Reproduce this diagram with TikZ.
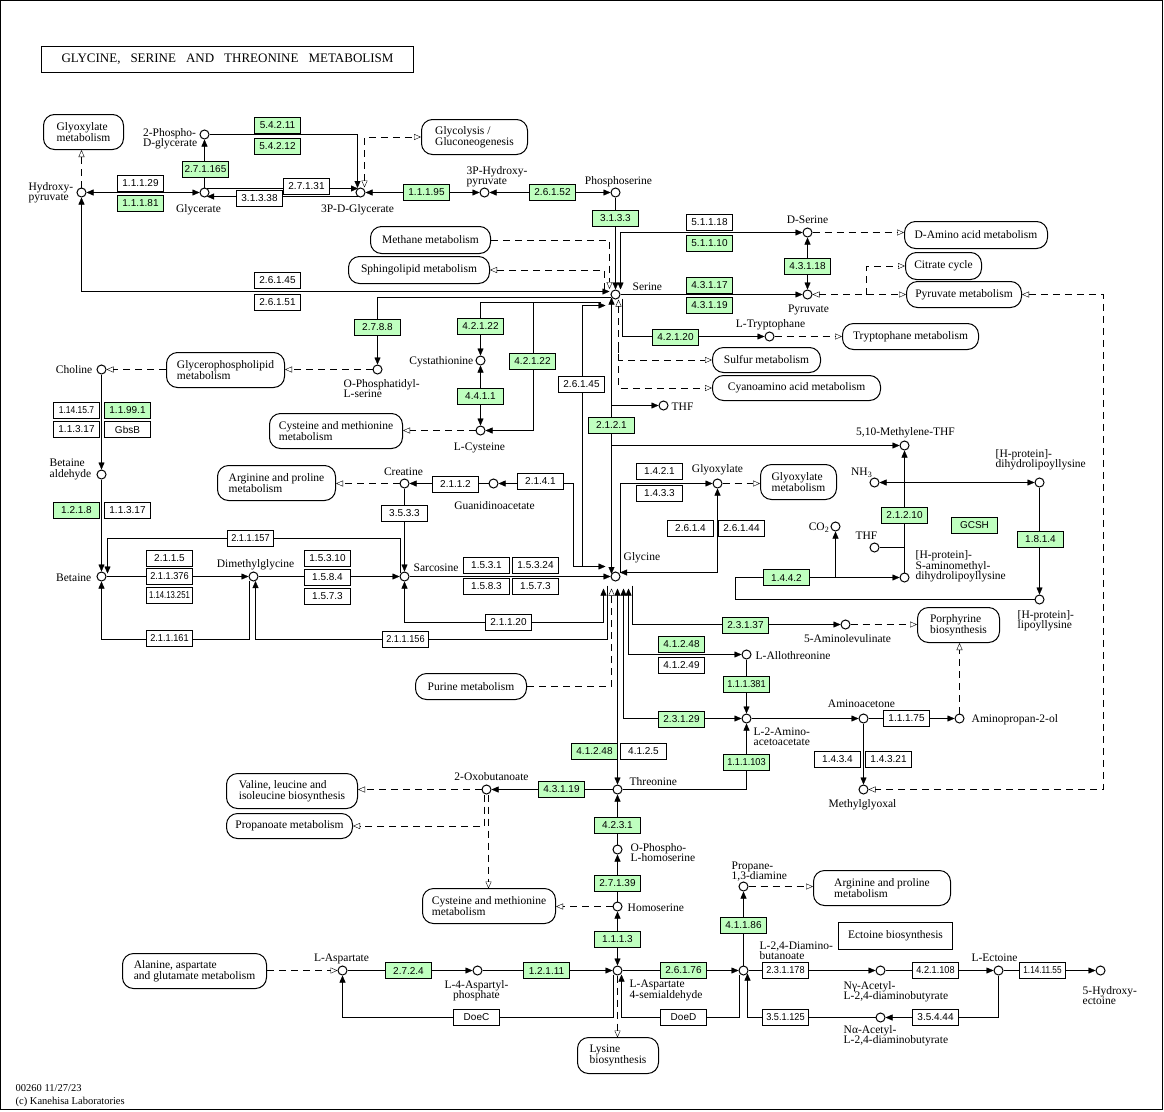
\documentclass[tikz,border=0pt]{standalone}
\usepackage{fontspec}
\setmainfont{Liberation Serif}
\newfontfamily\ecfam{Liberation Sans}
\usetikzlibrary{arrows.meta,backgrounds}
\definecolor{ecgreen}{HTML}{BFFFBF}
\newcommand{\labf}{\fontsize{11.5}{10.5}\selectfont}
\newcommand{\ecf}{\ecfam\fontsize{10}{10}\selectfont}
\newcommand{\sqz}[2]{\scalebox{#1}[1]{#2}}
\tikzset{
 >={Triangle[length=7pt,width=6pt]},
 oT/.tip={Triangle[open,length=7pt,width=6pt]},
 cpd/.style={circle,draw,fill=white,line width=1pt,inner sep=0pt,minimum size=9pt},
 ecg/.style={draw,fill=ecgreen,line width=0.9pt,minimum width=46pt,minimum height=16pt,inner sep=0pt,font=\ecf},
 ecw/.style={ecg,fill=white},
 mapb/.style={draw,fill=white,line width=1pt,rounded corners=11pt,align=left,inner sep=0pt,font=\labf},
 lab/.style={inner sep=0pt,align=left,font=\labf},
 dsh/.style={dash pattern=on 7pt off 5pt},
 rc/.style={sharp corners},
}
\begin{document}
\begin{tikzpicture}[x=1pt,y=-1pt]
\useasboundingbox (0,0) rectangle (1164,1111);
\draw[line width=1pt] (0.5,0.5) rectangle (1162.5,1109.5);
\begin{scope}[shift={(0.5,0.5)}]
\node[draw,line width=1pt,minimum width=372pt,minimum height=26pt,inner sep=0pt,font=\fontsize{13}{13}\selectfont] (title) at (227,59) {GLYCINE,\hspace{10pt}SERINE\hspace{10pt}AND\hspace{10pt}THREONINE\hspace{10pt}METABOLISM};
\node[lab,anchor=west,font=\fontsize{10.5}{10}\selectfont] (foot1) at (15,1088) {00260 11/27/23};
\node[lab,anchor=west,font=\fontsize{10.5}{10}\selectfont] (foot2) at (15,1101) {(c) Kanehisa Laboratories};

% ---------- compounds
\node[cpd] (hpyr) at (81,192) {};
\node[cpd] (pgly2) at (204,134) {};
\node[cpd] (glyc) at (204,192) {};
\node[cpd] (pgly3) at (360,192) {};
\node[cpd] (phpyr) at (484,192) {};
\node[cpd] (pser) at (615,192) {};
\node[cpd] (ser) at (615,294) {};
\node[cpd] (dser) at (807,232) {};
\node[cpd] (pyr) at (807,294) {};
\node[cpd] (trp) at (769,336) {};
\node[cpd] (thf1) at (663,405) {};
\node[cpd] (mthf) at (904,445) {};
\node[cpd] (nh3) at (874,482) {};
\node[cpd] (hdl) at (1039,482) {};
\node[cpd] (co2) at (835,526) {};
\node[cpd] (thf2) at (874,547) {};
\node[cpd] (ham) at (904,577) {};
\node[cpd] (hlip) at (1039,599) {};
\node[cpd] (glx) at (717,483) {};
\node[cpd] (gly) at (615,576) {};
\node[cpd] (sar) at (404,576) {};
\node[cpd] (dmg) at (253,576) {};
\node[cpd] (bet) at (101,576) {};
\node[cpd] (betald) at (101,474) {};
\node[cpd] (cho) at (101,369) {};
\node[cpd] (pser2) at (377,369) {};
\node[cpd] (cysta) at (480,360) {};
\node[cpd] (cys) at (480,430) {};
\node[cpd] (crea) at (404,483) {};
\node[cpd] (gaa) at (493,483) {};
\node[cpd] (ala) at (845,624) {};
\node[cpd] (athr) at (746,654) {};
\node[cpd] (aka) at (746,718) {};
\node[cpd] (aac) at (863,718) {};
\node[cpd] (apol) at (959,718) {};
\node[cpd] (mgo) at (863,789) {};
\node[cpd] (thr) at (617,789) {};
\node[cpd] (oxb) at (486,789) {};
\node[cpd] (phser) at (617,849) {};
\node[cpd] (hser) at (617,906) {};
\node[cpd] (asa) at (617,970) {};
\node[cpd] (asp4p) at (477,970) {};
\node[cpd] (asp) at (342,970) {};
\node[cpd] (dab) at (743,970) {};
\node[cpd] (pda) at (743,886) {};
\node[cpd] (nga) at (880,970) {};
\node[cpd] (ect) at (998,970) {};
\node[cpd] (hect) at (1100,970) {};
\node[cpd] (naa) at (880,1017) {};

% ---------- compound labels
\node[lab,anchor=east] (l1) at (73,192) {Hydroxy-\\pyruvate};
\node[lab,anchor=east] (l2) at (197,138) {2-Phospho-\\D-glycerate};
\node[lab] (l3) at (198,209) {Glycerate};
\node[lab] (l4) at (357,209) {3P-D-Glycerate};
\node[lab,anchor=west] (l5) at (466,176) {3P-Hydroxy-\\pyruvate};
\node[lab] (l6) at (618,181) {Phosphoserine};
\node[lab,anchor=west] (l7) at (632,286) {Serine};
\node[lab] (l8) at (807,219) {D-Serine};
\node[lab] (l9) at (808,309) {Pyruvate};
\node[lab] (l10) at (770,324) {L-Tryptophane};
\node[lab,anchor=west] (l11) at (671,406) {THF};
\node[lab] (l12) at (905,432) {5,10-Methylene-THF};
\node[lab,anchor=east] (l13) at (872,472) {NH\textsubscript{3}};
\node[lab,anchor=west] (l14) at (995,459) {[H-protein]-\\dihydrolipoyllysine};
\node[lab,anchor=east] (l15) at (829,527) {CO\textsubscript{2}};
\node[lab] (l16) at (866,535) {THF};
\node[lab,anchor=west] (l17) at (915,566) {[H-protein]-\\S-aminomethyl-\\dihydrolipoyllysine};
\node[lab,anchor=west] (l18) at (1017,620) {[H-protein]-\\lipoyllysine};
\node[lab] (l19) at (717,469) {Glyoxylate};
\node[lab,anchor=west] (l20) at (623,557) {Glycine};
\node[lab,anchor=west] (l21) at (413,567) {Sarcosine};
\node[lab] (l22) at (255,564) {Dimethylglycine};
\node[lab,anchor=east] (l23) at (91,577) {Betaine};
\node[lab,anchor=west] (l24) at (49,469) {Betaine\\aldehyde};
\node[lab,anchor=east] (l25) at (92,369) {Choline};
\node[lab,anchor=west] (l26) at (343,388) {O-Phosphatidyl-\\L-serine};
\node[lab,anchor=east] (l27) at (473,361) {Cystathionine};
\node[lab] (l28) at (479,447) {L-Cysteine};
\node[lab] (l29) at (403,471) {Creatine};
\node[lab] (l30) at (494,505) {Guanidinoacetate};
\node[lab] (l31) at (847,638) {5-Aminolevulinate};
\node[lab,anchor=west] (l32) at (755,655) {L-Allothreonine};
\node[lab,anchor=west] (l33) at (753,736) {L-2-Amino-\\acetoacetate};
\node[lab] (l34) at (861,703) {Aminoacetone};
\node[lab,anchor=west] (l35) at (971,719) {Aminopropan-2-ol};
\node[lab] (l36) at (862,804) {Methylglyoxal};
\node[lab,anchor=west] (l37) at (629,781) {Threonine};
\node[lab] (l38) at (491,776) {2-Oxobutanoate};
\node[lab,anchor=west] (l39) at (630,852) {O-Phospho-\\L-homoserine};
\node[lab,anchor=west] (l40) at (627,907) {Homoserine};
\node[lab,anchor=west] (l41) at (629,990) {L-Aspartate\\4-semialdehyde};
\node[lab,align=center] (l42) at (476,990) {L-4-Aspartyl-\\phosphate};
\node[lab] (l43) at (341,958) {L-Aspartate};
\node[lab,anchor=west] (l44) at (759,950) {L-2,4-Diamino-\\butanoate};
\node[lab,anchor=west] (l45) at (731,871) {Propane-\\1,3-diamine};
\node[lab,anchor=west] (l46) at (843,991) {Nγ-Acetyl-\\L-2,4-diaminobutyrate};
\node[lab] (l47) at (994,957) {L-Ectoine};
\node[lab,anchor=west] (l48) at (1082,995) {5-Hydroxy-\\ectoine};
\node[lab,anchor=west] (l49) at (843,1035) {Nα-Acetyl-\\L-2,4-diaminobutyrate};

% ---------- map boxes
\node[mapb,minimum width=80pt,minimum height=35pt] (m_glx1) at (83,131.5) {Glyoxylate\\metabolism};
\node[mapb,minimum width=106pt,minimum height=35pt] (m_glyco) at (474,136.5) {Glycolysis /\\Gluconeogenesis};
\node[mapb,minimum width=120pt,minimum height=27pt] (m_meth) at (430,239.5) {Methane metabolism};
\node[mapb,minimum width=141pt,minimum height=27pt] (m_sph) at (418.5,269.5) {Sphingolipid metabolism};
\node[mapb,minimum width=143pt,minimum height=27pt] (m_dam) at (975.5,234.5) {D-Amino acid metabolism};
\node[mapb,minimum width=76pt,minimum height=27pt] (m_cit) at (943,265.5) {Citrate cycle};
\node[mapb,minimum width=115pt,minimum height=26pt] (m_pyrm) at (963.5,294) {Pyruvate metabolism};
\node[mapb,minimum width=136pt,minimum height=26pt] (m_trpm) at (910,336) {Tryptophane metabolism};
\node[mapb,minimum width=108pt,minimum height=25pt] (m_sulf) at (766,359.5) {Sulfur metabolism};
\node[mapb,minimum width=168pt,minimum height=25pt] (m_cyano) at (796,387.5) {Cyanoamino acid metabolism};
\node[mapb,minimum width=118pt,minimum height=35pt] (m_gpl) at (225,369.5) {Glycerophospholipid\\metabolism};
\node[mapb,minimum width=133pt,minimum height=35pt] (m_cys1) at (335.5,430.5) {Cysteine and methionine\\metabolism};
\node[mapb,minimum width=118pt,minimum height=35pt] (m_arg1) at (276,482.5) {Arginine and proline\\metabolism};
\node[mapb,minimum width=76pt,minimum height=35pt] (m_glx2) at (798,481.5) {Glyoxylate\\metabolism};
\node[mapb,minimum width=82pt,minimum height=35pt] (m_por) at (958,624.5) {Porphyrine\\biosynthesis};
\node[mapb,minimum width=111pt,minimum height=26pt] (m_pur) at (470.5,686) {Purine metabolism};
\node[mapb,minimum width=131pt,minimum height=35pt] (m_val) at (291.5,790.5) {Valine, leucine and\\isoleucine biosynthesis};
\node[mapb,minimum width=126pt,minimum height=25pt] (m_prop) at (289,825.5) {Propanoate metabolism};
\node[mapb,minimum width=133pt,minimum height=35pt] (m_cys2) at (488.5,905.5) {Cysteine and methionine\\metabolism};
\node[mapb,minimum width=137pt,minimum height=35pt] (m_arg2) at (881.5,887.5) {Arginine and proline\\metabolism};
\node[mapb,rounded corners=0pt,minimum width=114pt,minimum height=27pt] (m_ect) at (895,935.5) {Ectoine biosynthesis};
\node[mapb,minimum width=144pt,minimum height=35pt] (m_ala) at (194,970.5) {Alanine, aspartate\\and glutamate metabolism};
\node[mapb,minimum width=81pt,minimum height=36pt] (m_lys) at (617.5,1055) {Lysine\\biosynthesis};

% ---------- enzymes
\node[ecg] (e1) at (277,125) {5.4.2.11};
\node[ecg] (e2) at (277,146) {5.4.2.12};
\node[ecg] (e3) at (205,169) {2.7.1.165};
\node[ecw] (e4) at (140,183) {1.1.1.29};
\node[ecg] (e5) at (140,203) {1.1.1.81};
\node[ecw] (e6) at (306,186) {2.7.1.31};
\node[ecw] (e7) at (259,198) {3.1.3.38};
\node[ecg] (e8) at (426,192) {1.1.1.95};
\node[ecg] (e9) at (552,192) {2.6.1.52};
\node[ecg] (e10) at (615,218) {3.1.3.3};
\node[ecw] (e11) at (709,222) {5.1.1.18};
\node[ecg] (e12) at (709,243) {5.1.1.10};
\node[ecg] (e13) at (807,266) {4.3.1.18};
\node[ecg] (e14) at (709,285) {4.3.1.17};
\node[ecg] (e15) at (709,305) {4.3.1.19};
\node[ecw] (e16) at (277,280) {2.6.1.45};
\node[ecw] (e17) at (277,302) {2.6.1.51};
\node[ecg] (e18) at (377,327) {2.7.8.8};
\node[ecg] (e19) at (480,326) {4.2.1.22};
\node[ecg] (e20) at (532,361) {4.2.1.22};
\node[ecg] (e21) at (480,396) {4.4.1.1};
\node[ecw] (e22) at (581,384) {2.6.1.45};
\node[ecg] (e23) at (675,337) {4.2.1.20};
\node[ecg] (e24) at (611,425) {2.1.2.1};
\node[ecw] (e25) at (76,410) {\sqz{0.85}{1.14.15.7}};
\node[ecg] (e26) at (127,410) {1.1.99.1};
\node[ecw] (e27) at (76,429) {1.1.3.17};
\node[ecw] (e28) at (127,429) {GbsB};
\node[ecg] (e29) at (76,510) {1.2.1.8};
\node[ecw] (e30) at (127,510) {1.1.3.17};
\node[ecw] (e31) at (250,538) {\sqz{0.92}{2.1.1.157}};
\node[ecw] (e32) at (455,484) {2.1.1.2};
\node[ecw] (e33) at (540,481) {2.1.4.1};
\node[ecw] (e34) at (404,513) {3.5.3.3};
\node[ecw] (e35) at (659,471) {1.4.2.1};
\node[ecw] (e36) at (659,493) {1.4.3.3};
\node[ecw] (e37) at (690,528) {2.6.1.4};
\node[ecw] (e38) at (741,528) {2.6.1.44};
\node[ecg] (e39) at (904,515) {2.1.2.10};
\node[ecg] (e40) at (974,525) {GCSH};
\node[ecg] (e41) at (1040,539) {1.8.1.4};
\node[ecg] (e42) at (786,577) {1.4.4.2};
\node[ecw] (e43) at (169,558) {2.1.1.5};
\node[ecw] (e44) at (169,576) {\sqz{0.92}{2.1.1.376}};
\node[ecw] (e45) at (169,595) {\sqz{0.77}{1.14.13.251}};
\node[ecw] (e46) at (327,558) {1.5.3.10};
\node[ecw] (e47) at (327,577) {1.5.8.4};
\node[ecw] (e48) at (327,596) {1.5.7.3};
\node[ecw] (e49) at (486,565) {1.5.3.1};
\node[ecw] (e50) at (535,565) {1.5.3.24};
\node[ecw] (e51) at (486,586) {1.5.8.3};
\node[ecw] (e52) at (535,586) {1.5.7.3};
\node[ecw] (e53) at (169,638) {\sqz{0.92}{2.1.1.161}};
\node[ecw] (e54) at (405,639) {\sqz{0.92}{2.1.1.156}};
\node[ecw] (e55) at (508,622) {2.1.1.20};
\node[ecg] (e56) at (745,625) {2.3.1.37};
\node[ecg] (e57) at (681,644) {4.1.2.48};
\node[ecw] (e58) at (681,665) {4.1.2.49};
\node[ecg] (e59) at (746,684) {\sqz{0.92}{1.1.1.381}};
\node[ecg] (e60) at (681,719) {2.3.1.29};
\node[ecg] (e61) at (746,762) {\sqz{0.92}{1.1.1.103}};
\node[ecg] (e62) at (594,751) {4.1.2.48};
\node[ecw] (e63) at (643,751) {4.1.2.5};
\node[ecw] (e64) at (906,718) {1.1.1.75};
\node[ecw] (e65) at (837,759) {1.4.3.4};
\node[ecw] (e66) at (888,759) {1.4.3.21};
\node[ecg] (e67) at (561,789) {4.3.1.19};
\node[ecg] (e68) at (617,825) {4.2.3.1};
\node[ecg] (e69) at (617,883) {2.7.1.39};
\node[ecg] (e70) at (617,939) {1.1.1.3};
\node[ecg] (e71) at (743,925) {4.1.1.86};
\node[ecg] (e72) at (408,970) {2.7.2.4};
\node[ecg] (e73) at (546,970) {1.2.1.11};
\node[ecg] (e74) at (683,970) {2.6.1.76};
\node[ecw] (e75) at (785,970) {\sqz{0.92}{2.3.1.178}};
\node[ecw] (e76) at (935,970) {\sqz{0.92}{4.2.1.108}};
\node[ecw] (e77) at (1042,970) {\sqz{0.82}{1.14.11.55}};
\node[ecw] (e78) at (476,1017) {DoeC};
\node[ecw] (e79) at (683,1017) {DoeD};
\node[ecw] (e80) at (785,1017) {\sqz{0.92}{3.5.1.125}};
\node[ecw] (e81) at (935,1017) {3.5.4.44};

% ---------- connectors
\begin{scope}[on background layer,line width=1pt]
\draw[dsh,-{oT}] (hpyr.north) -- (hpyr |- m_glx1.south);
\draw[<->] (glyc.west) -- (hpyr.east);
\draw[->] (glyc.north) -- (pgly2.south);
\draw[->,rc] (pgly2.east) -| (357,187.5);
\draw[->] (206,188) -- (357.5,188);
\draw[->] (358,196) -- (206.5,196);
\draw[dsh,{oT}-{oT},rc] (364,187) |- (m_glyco.west);
\draw[<->] (phpyr.west) -- (pgly3.east);
\draw[<->] (pser.west) -- (phpyr.east);
\draw[->] (pser.south) -- (ser.north);
\draw[<->,rc] (dser.west) -| (620,289);
\draw[dsh,-{oT},rc] (m_meth.east) -| (609,288.5);
\draw[dsh,-{oT},rc] (604,289) |- (m_sph.east);
\draw[<->,rc] (609,291) -| (hpyr.south);
\draw[->,rc] (610,297) -| (pser2.north);
\draw[->,rc] (600,302) -| (cysta.north);
\draw[->,rc] (533,302) |- (cys.east);
\draw[<->,rc] (605,566) -| (582,305) -- (605,305);
\draw[->] (ser.east) -- (pyr.west);
\draw[<->] (dser.south) -- (pyr.north);
\draw[dsh,-{oT}] (dser.east) -- (dser -| m_dam.west);
\draw[dsh,{oT}-{oT}] (pyr.east) -- (pyr -| m_pyrm.west);
\draw[dsh,-{oT},rc] (866,294) |- (m_cit.west);
\draw[dsh,{oT}-{oT},rc] (m_pyrm.east) -| (1103,789) -- (mgo.east);
\draw[->,rc] (622,298) |- (trp.west);
\draw[dsh,-{oT}] (trp.east) -- (trp -| m_trpm.west);
\draw[dsh,{oT}-{oT},rc] (618,299) |- (m_cyano.west);
\draw[dsh,-{oT},rc] (618,345) |- (m_sulf.west);
\draw[<->] (611,297) -- (611,573.5);
\draw[->,rc] (611,418) |- (thf1.west);
\draw[->,rc] (611,432) |- (mthf.west);
\draw[->,rc] (620,572) |- (glx.west);
\draw[<->,rc] (glx.south) |- (619.5,572);
\draw[dsh,-{oT}] (glx.east) -- (glx -| m_glx2.west);
\draw[->] (ham.north) -- (mthf.south);
\draw[->,rc] (904,496) |- (nh3.east);
\draw[->,rc] (904,496) |- (hdl.west);
\draw[rc] (thf2.east) -| (904,533);
\draw[->] (hdl.south) -- (hlip.north);
\draw[->,rc] (hlip.west) -- (735,599) -- (735,577) -- (ham.west);
\draw[->,rc] (820,577) -| (co2.south);
\draw[->,rc] (600,566) -| (573,483) -- (gaa.east);
\draw[->] (gaa.west) -- (crea.east);
\draw[dsh,-{oT}] (crea.west) -- (crea -| m_arg1.east);
\draw[->] (crea.south) -- (sar.north);
\draw[->] (sar.east) -- (gly.west);
\draw[->] (dmg.east) -- (sar.west);
\draw[->] (bet.east) -- (dmg.west);
\draw[->] (cho.south) -- (betald.north);
\draw[->] (betald.south) -- (bet.north);
\draw[rc,->] (400,572) |- (107,538) -- (107,573);
\draw[->,rc] (249,580) |- (101,639) -- (bet.south);
\draw[->,rc] (607,585) |- (255,639) -- (255,580.5);
\draw[<->,rc] (603,588) |- (404,622) -- (sar.south);
\draw[dsh,-{oT},rc] (m_pur.east) -| (611,588);
\draw[<->] (617,588) -- (thr.north);
\draw[<->,rc] (623,588) |- (aka.west);
\draw[<->,rc] (628,588) |- (athr.west);
\draw[->,rc] (632,585) |- (ala.west);
\draw[->] (athr.south) -- (aka.north);
\draw[->,rc] (thr.east) -| (aka.south);
\draw[->] (aka.east) -- (aac.west);
\draw[->] (aac.east) -- (apol.west);
\draw[dsh,-{oT}] (apol.north) -- (apol |- m_por.south);
\draw[dsh,-{oT}] (ala.east) -- (ala -| m_por.west);
\draw[->] (aac.south) -- (mgo.north);
\draw[->] (thr.west) -- (oxb.east);
\draw[dsh,-{oT}] (oxb.west) -- (oxb -| m_val.east);
\draw[dsh,-{oT},rc] (484,794) |- (m_prop.east);
\draw[dsh,-{oT}] (488,794) -- (488,888);
\draw[->] (phser.north) -- (thr.south);
\draw[->] (hser.north) -- (phser.south);
\draw[dsh,-{oT}] (hser.west) -- (hser -| m_cys2.east);
\draw[<->] (asa.north) -- (hser.south);
\draw[->] (asp.east) -- (asp4p.west);
\draw[->] (asp4p.east) -- (asa.west);
\draw[->] (asa.east) -- (dab.west);
\draw[->] (dab.north) -- (pda.south);
\draw[dsh,-{oT}] (pda.east) -- (pda -| m_arg2.west);
\draw[->] (dab.east) -- (nga.west);
\draw[->] (nga.east) -- (ect.west);
\draw[->] (ect.east) -- (hect.west);
\draw[->,rc] (ect.south) |- (naa.east);
\draw[->,rc] (naa.west) -| (747,973);
\draw[->,rc] (739,974) |- (621,1017) -- (621,974);
\draw[->,rc] (613,974) |- (342,1017) -- (asp.south);
\draw[dsh,-{oT}] (617,975) -- (617,1037);
\draw[dsh,-{oT}] (m_ala.east |- asp) -- (asp.west);
\draw[dsh,-{oT}] (m_gpl.west |- cho) -- (cho.east);
\draw[dsh,-{oT}] (pser2.west) -- (pser2 -| m_gpl.east);
\draw[dsh,-{oT}] (cys.west) -- (cys -| m_cys1.east);
\draw[<->] (cysta.south) -- (cys.north);
\end{scope}
\end{scope}
\end{tikzpicture}
\end{document}
